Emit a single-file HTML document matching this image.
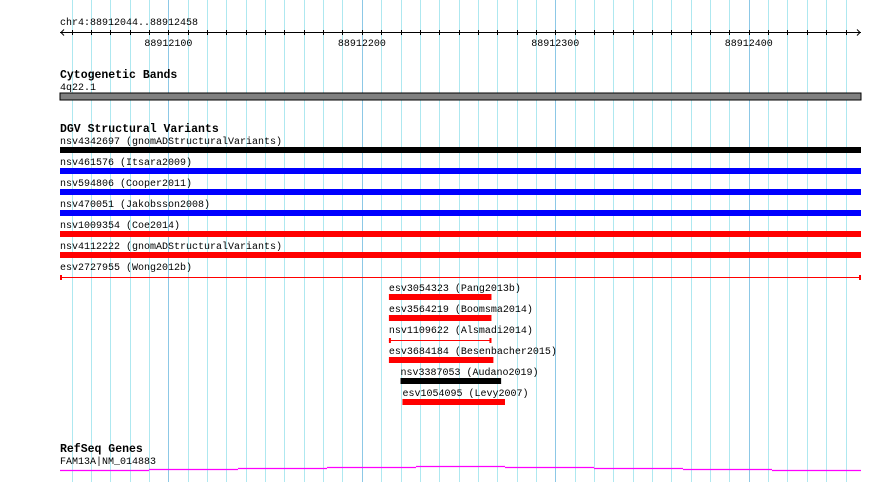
<!DOCTYPE html>
<html><head><meta charset="utf-8"><style>
html,body{margin:0;padding:0;background:#fff;}
svg{display:block;}
text{font-family:"Liberation Mono","DejaVu Sans Mono",monospace;font-size:10px;fill:#000;}
.h{font-weight:bold;font-size:11.5px;}
</style></head><body>
<svg id="c" width="890" height="482" xmlns="http://www.w3.org/2000/svg">
<g id="grid"></g>
<g id="ruler">
<text x="60" y="25">chr4:88912044..88912458</text>
</g>
<g>
<text class="h" x="60" y="78">Cytogenetic Bands</text>
<text x="60" y="90">4q22.1</text>
<rect x="60" y="93" width="801" height="7" fill="#808080" stroke="#000" stroke-width="1"/>
</g>
<text class="h" x="60" y="132">DGV Structural Variants</text>
<g id="feats"></g>
<g>
<text class="h" x="60" y="452">RefSeq Genes</text>
<text x="60" y="464">FAM13A|NM_014883</text>
<g id="gene"></g>
</g>
</svg>
<script>
const startBp = 88912044, endBp = 88912458;
const tickLabels = [88912100, 88912200, 88912300, 88912400];
const featNames = ["nsv4342697 (gnomADStructuralVariants)","nsv461576 (Itsara2009)","nsv594806 (Cooper2011)","nsv470051 (Jakobsson2008)","nsv1009354 (Coe2014)","nsv4112222 (gnomADStructuralVariants)","esv2727955 (Wong2012b)","esv3054323 (Pang2013b)","esv3564219 (Boomsma2014)","nsv1109622 (Alsmadi2014)","esv3684184 (Besenbacher2015)","nsv3387053 (Audano2019)","esv1054095 (Levy2007)"];
const featStart = [88912044,88912044,88912044,88912044,88912044,88912044,88912044,88912214,88912214,88912214,88912214,88912220,88912221];
const featEnd = [88912458,88912458,88912458,88912458,88912458,88912458,88912458,88912267,88912267,88912267,88912268,88912272,88912274];
const featColor = ["#000","#0000ff","#0000ff","#0000ff","#ff0000","#ff0000","line","#ff0000","#ff0000","line","#ff0000","#000","#ff0000"];
const geneSteps = [0,1,2,3,4,3,2,1,0];

const NS="http://www.w3.org/2000/svg";
const X0=60, X1=861;
function xs(bp){return X0+(bp-startBp)/(endBp-startBp)*(X1-X0);}
function mk(tag,attrs,parent){const e=document.createElementNS(NS,tag);for(const k in attrs)e.setAttribute(k,attrs[k]);parent.appendChild(e);return e;}

const grid=document.getElementById('grid');
for(let bp=Math.ceil(startBp/10)*10; bp<=endBp; bp+=10){
  const x=Math.round(xs(bp))+0.5;
  const l=mk('line',{x1:x,x2:x,y1:0,y2:482,stroke:bp%100===0?'#8cc8e6':'#aee8f0','stroke-width':1},grid);
  
  
}
const ruler=document.getElementById('ruler');
const ax=mk('line',{x1:X0,x2:X1,y1:32.5,y2:32.5,stroke:'#000'},ruler);


mk('path',{d:'M64 29.5 L61 32.5 L64 35.5 M857 29.5 L860 32.5 L857 35.5',stroke:'#000',fill:'none'},ruler);
for(let bp=Math.ceil(startBp/10)*10; bp<=endBp; bp+=10){
  const x=Math.round(xs(bp))+0.5;
  const t=mk('line',{x1:x,x2:x,y1:30,y2:35,stroke:'#000'},ruler);
  
  
}
tickLabels.forEach(v=>{
  const t=mk('text',{x:xs(v),y:46,'text-anchor':'middle'},ruler);
  t.textContent=v;
  
  
});

const feats=document.getElementById('feats');
featNames.forEach((n,i)=>{
  const x1=xs(featStart[i]), x2=xs(featEnd[i]);
  const y=i<7 ? 144+i*21 : 291+(i-7)*21;
  const t=mk('text',{x:x1,y:y},feats);
  t.textContent=n;
  
  
  const g=mk('g',{},feats);
  
  
  if(featColor[i]==='line'){
    mk('line',{x1:x1,x2:x2,y1:y+7.5,y2:y+7.5,stroke:'#ff0000'},g);
    mk('rect',{x:x1,y:y+5,width:2,height:5,fill:'#ff0000'},g);
    mk('rect',{x:x2-2,y:y+5,width:2,height:5,fill:'#ff0000'},g);
  } else {
    mk('rect',{x:x1,y:y+3,width:x2-x1,height:6,fill:featColor[i]},g);
  }
});

const gene=document.getElementById('gene');
const segW=(X1-X0)/geneSteps.length;
geneSteps.forEach((s,i)=>{
  const y=470.5-s;
  const l=mk('line',{x1:X0+i*segW,x2:X0+(i+1)*segW,y1:y,y2:y,stroke:'#ff00ff','stroke-width':1.3},gene);
  
  
});
</script>
</body></html>
